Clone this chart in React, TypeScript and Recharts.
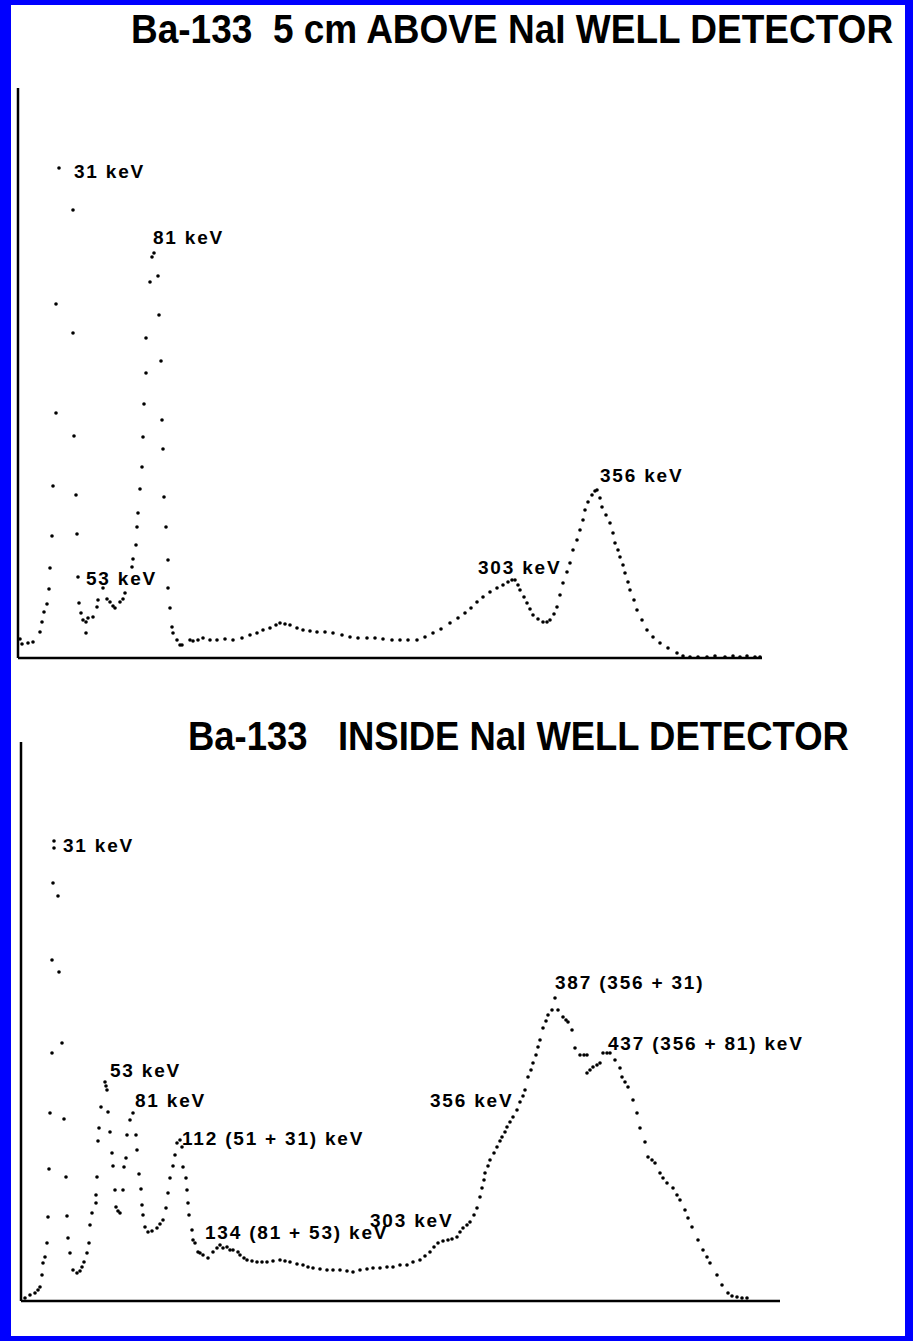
import { ReferenceLine, Scatter, ScatterChart, XAxis, YAxis } from 'recharts';

// Ba-133 spectrum, source 5 cm above the well (channel, counts)
const aboveChannel = [
  2, 4, 10, 15, 22, 24, 26, 29, 31, 32, 34, 35, 38, 38, 41,
  55, 55, 56, 58, 59, 60, 61, 63, 65, 68, 70, 68, 75, 79, 80, 85, 89, 92, 95, 97, 102, 105, 107,
  114, 115, 118, 119, 120, 122, 124, 125, 126, 128, 128, 132, 134, 136,
  140, 141, 143, 144, 145, 146, 148, 150, 150, 152, 154, 155, 159, 162, 164,
  172, 175, 180, 185, 192, 199, 207, 215, 224, 232, 239, 245, 252, 258, 262, 267, 272, 279, 285,
  292, 299, 307, 315, 324, 332, 340, 349, 357, 365, 374, 382, 390, 399, 407, 415, 423, 432, 440,
  447, 453, 459, 465, 472, 479, 485, 490, 494, 497, 500, 502, 506, 509, 512, 515, 520, 525, 529,
  532, 536, 539, 542, 545, 549, 552, 555, 559, 562, 565, 567, 570, 574, 577, 579, 582, 584, 588,
  592, 595, 597, 600, 602, 605, 607, 610, 612, 616, 619, 624, 629, 635, 642, 650, 659, 665, 672,
  680, 689, 697, 707, 715, 722, 729, 737, 742,
];
const aboveCounts = [
  19, 14, 15, 16, 26, 36, 46, 54, 69, 90, 122, 172, 245, 354, 490,
  448, 325, 222, 163, 124, 81, 55, 45, 38, 36, 40, 25, 41, 51, 58, 70, 59, 56, 52, 50, 56, 59, 65,
  91, 99, 113, 131, 145, 169, 191, 221, 254, 285, 320, 376, 401, 405,
  382, 343, 297, 238, 209, 161, 131, 98, 70, 50, 31, 25, 18, 13, 13,
  18, 17, 18, 20, 18, 18, 19, 18, 20, 23, 25, 28, 30, 33, 35, 34, 33, 30, 28,
  27, 26, 26, 25, 23, 21, 20, 20, 20, 19, 18, 18, 18, 18, 21, 25, 29, 35, 40,
  45, 50, 56, 61, 66, 70, 73, 76, 78, 78, 73, 68, 61, 55, 49, 43, 39, 36, 36,
  38, 44, 51, 63, 75, 86, 95, 108, 118, 128, 138, 148, 156, 163, 167, 168, 160, 151, 143,
  135, 125, 115, 108, 101, 93, 85, 76, 68, 58, 48, 38, 28, 21, 15, 10, 5, 2, 1,
  1, 1, 2, 1, 2, 1, 2, 1, 1,
];

// Ba-133 spectrum, source inside the well
const insideChannel = [
  4, 9, 14, 17, 19, 21, 22, 24, 26, 27, 28, 29, 31, 31, 32, 33, 33,
  37, 38, 41, 43, 45, 46, 47, 49, 52, 56, 59, 61, 63, 66, 68, 69, 71, 75, 75, 76, 77, 78, 80,
  84, 85, 86, 87, 89, 91, 92, 94, 95, 97, 99,
  102, 103, 105, 106, 109, 112, 115, 116, 118, 120, 121, 122, 124, 127, 131, 136, 139, 142,
  145, 147, 149, 152, 154, 156, 159, 161, 162, 165, 166, 167, 168, 171, 172, 174, 177, 179,
  182, 187, 192, 196, 199, 202, 206, 209, 212, 217, 219, 223, 226, 231, 236, 241, 246, 252,
  259, 264, 269, 276, 282, 287, 292, 299, 306, 312, 319, 326, 332, 339, 346, 352, 359, 366,
  372, 379, 386, 392, 399, 404, 409, 413, 417, 422, 427, 431, 436, 439, 442, 446, 449, 453,
  456, 459, 461, 463, 464, 467, 469, 473, 476, 479, 481, 484, 486, 489, 492, 496, 499, 502,
  504, 507, 510, 512, 515, 517, 519, 522, 525, 527, 531, 534, 537, 542, 545, 547, 551, 554,
  559, 563, 566, 566, 569, 572, 576, 579, 582, 586, 589, 594, 599, 601, 604, 607, 612, 616,
  619, 624, 627, 631, 634, 639, 642, 646, 652, 656, 659, 664, 667, 671, 677, 682, 686, 689,
  696, 701, 707, 711, 716, 721, 726,
];
const insideCounts = [
  3, 6, 8, 11, 14, 26, 38, 44, 58, 84, 132, 188, 248, 341, 418, 453, 460,
  405, 329, 258, 182, 124, 85, 63, 48, 31, 28, 30, 34, 39, 48, 58, 76, 88, 98, 106, 124, 160, 173, 194,
  219, 215, 211, 189, 169, 148, 135, 111, 94, 90, 88,
  111, 134, 143, 166, 181, 188, 166, 151, 127, 112, 96, 86, 74, 69, 70, 73, 77, 81,
  93, 108, 123, 135, 146, 158, 161, 154, 134, 123, 111, 98, 86, 71, 61, 58, 49, 48,
  46, 43, 49, 53, 56, 53, 54, 51, 51, 49, 46, 43, 41, 40, 39, 39, 39, 40,
  41, 40, 39, 37, 36, 34, 33, 32, 31, 31, 31, 30, 29, 31, 32, 33, 33, 34,
  34, 36, 36, 39, 41, 45, 49, 54, 58, 60, 61, 62, 64, 69, 73, 76, 79, 86,
  93, 104, 113, 121, 128, 135, 141, 148, 154, 160, 164, 169, 174, 179, 184, 191, 199, 205,
  211, 224, 231, 238, 246, 254, 261, 273, 280, 286, 291, 303, 291, 284, 281, 279, 271, 253,
  246, 246, 246, 228, 231, 234, 236, 238, 248, 248, 248, 241, 233, 224, 219, 214, 201, 188,
  173, 159, 144, 141, 138, 128, 123, 118, 113, 106, 101, 91, 83, 74, 61, 51, 44, 38,
  26, 16, 8, 5, 4, 3, 3,
];

// peak annotations (text anchored at its left-middle)
const aboveLabelText = ['31 keV', '81 keV', '53 keV', '303 keV', '356 keV'];
const aboveLabelChannel = [56, 135, 68, 460, 582];
const aboveLabelCounts = [487, 421, 80, 91, 183];

const insideLabelText = [
  '31 keV', '53 keV', '81 keV', '112 (51 + 31) keV', '134 (81 + 53) keV',
  '303 keV', '356 keV', '387 (356 + 31)', '437 (356 + 81) keV',
];
const insideLabelChannel = [42, 89, 114, 161, 184, 349, 409, 534, 587];
const insideLabelCounts = [456, 231, 201, 163, 69, 81, 201, 319, 258];

const zip = (ch: number[], c: number[]) => ch.map((x, i) => ({ ch: x, c: c[i] }));
const zipLabels = (t: string[], ch: number[], c: number[]) =>
  t.map((label, i) => ({ label, ch: ch[i], c: c[i] }));

const dot = (p: any) => <circle cx={p.cx} cy={p.cy} r={1.8} fill="#000" />;

const label = (p: any) => (
  <text
    x={p.cx}
    y={p.cy}
    dominantBaseline="central"
    fontFamily="'Liberation Sans', Arial, sans-serif"
    fontWeight="bold"
    fontSize={19}
    letterSpacing={1.8}
    fill="#000"
    style={{ whiteSpace: 'pre' }}
  >
    {p.payload.label}
  </text>
);

interface SpectrumProps {
  top: number;
  height: number;
  margin: { top: number; left: number; right: number; bottom: number };
  xMax: number;
  yMax: number;
  points: { ch: number; c: number }[];
  labels: { label: string; ch: number; c: number }[];
}

const Spectrum = ({ top, height, margin, xMax, yMax, points, labels }: SpectrumProps) => (
  <div style={{ position: 'absolute', left: 0, top }}>
    <ScatterChart width={913} height={height} margin={margin}>
      <XAxis type="number" dataKey="ch" domain={[0, xMax]} hide />
      <YAxis type="number" dataKey="c" domain={[0, yMax]} hide />
      <ReferenceLine y={0} stroke="#000" strokeWidth={2.5} ifOverflow="visible" />
      <ReferenceLine x={0} stroke="#000" strokeWidth={2.5} ifOverflow="visible" />
      <Scatter data={points} shape={dot} isAnimationActive={false} />
      <Scatter data={labels} shape={label} isAnimationActive={false} />
    </ScatterChart>
  </div>
);

const titleStyle = {
  position: 'absolute' as const,
  fontFamily: "'Liberation Sans', Arial, sans-serif",
  fontWeight: 'bold' as const,
  fontSize: 37,
  lineHeight: '40px',
  whiteSpace: 'pre' as const,
  transformOrigin: '0 0',
  color: '#000',
};

export default function App() {
  return (
    <div style={{ position: 'absolute', left: 0, top: 0, width: 913, height: 1341, background: '#0000ff' }}>
      <div style={{ position: 'absolute', left: 11, top: 5, width: 894, height: 1331, background: '#fff' }} />
      <div style={{ ...titleStyle, left: 131, top: 7, transform: 'scaleY(1.12)' }}>
        {'Ba-133  5 cm ABOVE NaI WELL DETECTOR'}
      </div>
      <div style={{ ...titleStyle, left: 188, top: 714, transform: 'scale(0.985, 1.12)' }}>
        {'Ba-133   INSIDE NaI WELL DETECTOR'}
      </div>
      <Spectrum
        top={0}
        height={680}
        margin={{ top: 88, left: 18, right: 151, bottom: 22 }}
        xMax={744}
        yMax={570}
        points={zip(aboveChannel, aboveCounts)}
        labels={zipLabels(aboveLabelText, aboveLabelChannel, aboveLabelCounts)}
      />
      <Spectrum
        top={700}
        height={620}
        margin={{ top: 42, left: 21, right: 133, bottom: 19 }}
        xMax={759}
        yMax={559}
        points={zip(insideChannel, insideCounts)}
        labels={zipLabels(insideLabelText, insideLabelChannel, insideLabelCounts)}
      />
    </div>
  );
}
